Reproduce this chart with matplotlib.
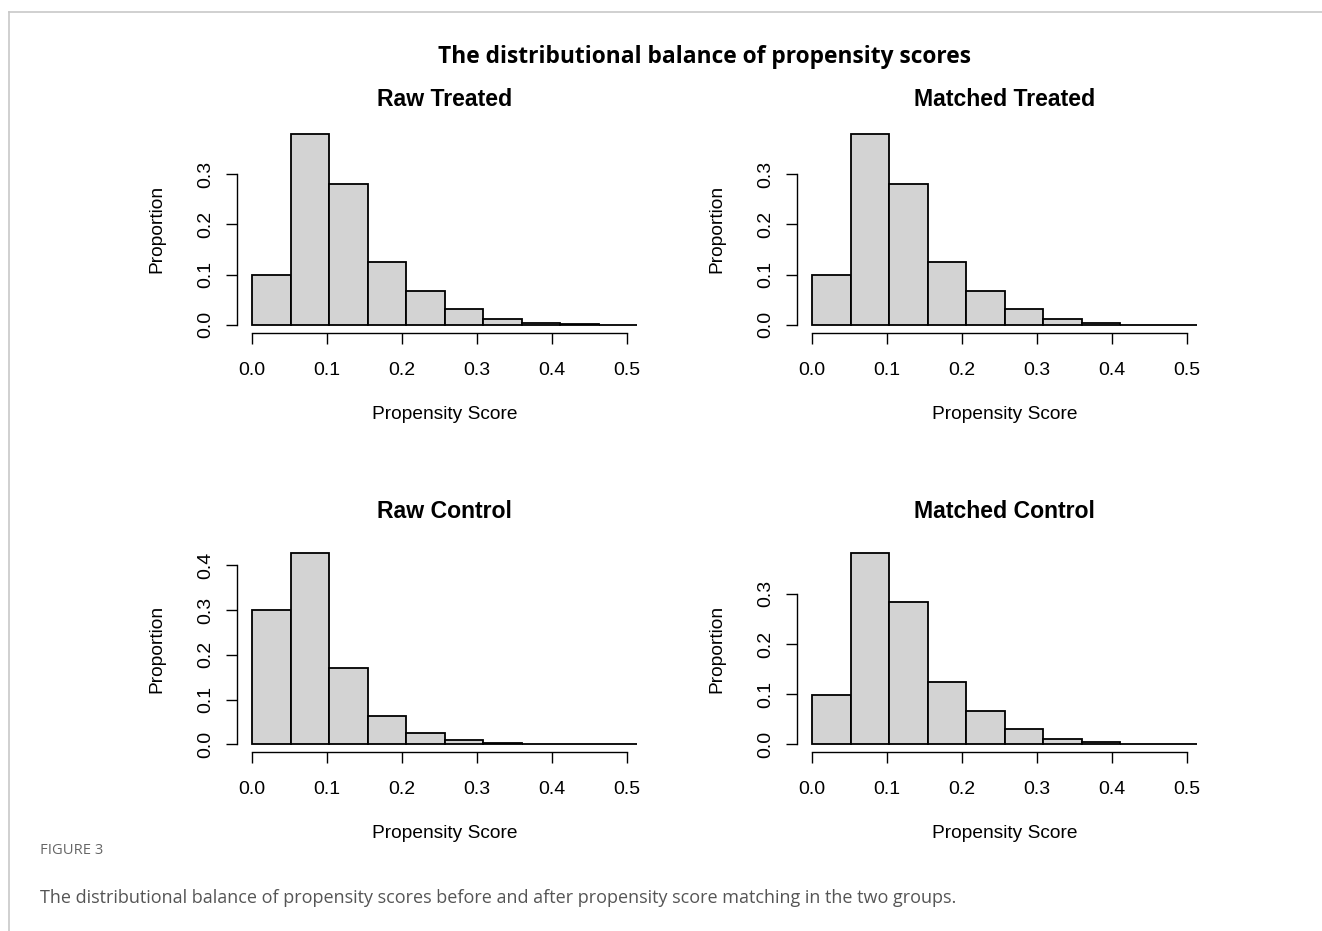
import matplotlib.pyplot as plt
import numpy as np

# bin edges of the propensity score histograms (10 equal bins)
edges = np.linspace(0.0, 0.514, 11)

raw_treated = [0.099, 0.381, 0.281, 0.125, 0.068, 0.031, 0.011, 0.004, 0.0015, 0.0]
matched_treated = [0.099, 0.381, 0.281, 0.125, 0.068, 0.031, 0.011, 0.004, 0.0, 0.0]
raw_control = [0.300, 0.427, 0.171, 0.063, 0.025, 0.0097, 0.003, 0.0015, 0.001, 0.0005]
matched_control = [0.098, 0.381, 0.283, 0.125, 0.067, 0.031, 0.011, 0.004, 0.0, 0.0]

panels = [
    ("Raw Treated", raw_treated, [0.0, 0.1, 0.2, 0.3]),
    ("Matched Treated", matched_treated, [0.0, 0.1, 0.2, 0.3]),
    ("Raw Control", raw_control, [0.0, 0.1, 0.2, 0.3, 0.4]),
    ("Matched Control", matched_control, [0.0, 0.1, 0.2, 0.3]),
]
xticks = [0.0, 0.1, 0.2, 0.3, 0.4, 0.5]

W, H = 1322, 931
plt.rcParams['font.family'] = ['Liberation Sans', 'DejaVu Sans']
fig = plt.figure(figsize=(W / 100, H / 100), dpi=100)


def fx(x):
    return x / W


def fy(y):
    return 1 - y / H


# light frame of the figure page
fig.add_artist(plt.Line2D([fx(9), 1], [fy(11.5), fy(11.5)], color='#c8c8c8', lw=1.2))
fig.add_artist(plt.Line2D([fx(9), fx(9)], [fy(11.5), 0], color='#c8c8c8', lw=1.2))

fig.text(fx(705), fy(57), "The distributional balance of propensity scores",
         family='Open Sans', weight='bold', fontsize=16.4, ha='center', va='center')

rows_top = [126.0, 545.5]
ax_h = 206.5
left0 = 236.9
ax_w = 415.5
title_y = [100, 511]

for i, (name, heights, yticks) in enumerate(panels):
    col, row = i % 2, i // 2
    left = left0 + 560 * col
    top = rows_top[row]
    ax = fig.add_axes([fx(left), fy(top + ax_h), ax_w / W, ax_h / H])
    ax.bar(edges[:-1], heights, width=np.diff(edges), align='edge',
           color='#d3d3d3', edgecolor='black', linewidth=1.3)
    rng = edges[-1] - edges[0]
    ymax = max(heights)
    ax.set_xlim(edges[0] - 0.04 * rng, edges[-1] + 0.04 * rng)
    ax.set_ylim(-0.04 * ymax, 1.04 * ymax)
    for s in ['top', 'right']:
        ax.spines[s].set_visible(False)
    ax.spines['left'].set_bounds(yticks[0], yticks[-1])
    ax.spines['bottom'].set_bounds(xticks[0], xticks[-1])
    for s in ['left', 'bottom']:
        ax.spines[s].set_linewidth(1.0)
    ax.set_xticks(xticks)
    ax.set_xticklabels([f"{t:.1f}" for t in xticks])
    ax.set_yticks(yticks)
    ax.set_yticklabels([f"{t:.1f}" for t in yticks], rotation=90, va='center')
    ax.tick_params(axis='both', length=8, width=1.0, labelsize=14)
    ax.tick_params(axis='x', pad=13)
    ax.tick_params(axis='y', pad=8)

    cx = left + ax_w / 2
    fig.text(fx(cx), fy(title_y[row]), name, weight='bold', fontsize=16.6,
             ha='center', va='center')
    ax.set_xlabel("Propensity Score", fontsize=13.8)
    ax.xaxis.set_label_coords(0.5, -82 / ax_h)
    ax.xaxis.label.set_va('center')
    ax.set_ylabel("Proportion", fontsize=13.8)
    ax.yaxis.set_label_coords((157 - 236.9) / ax_w, 0.5)
    ax.yaxis.label.set_va('center')

fig.text(fx(40), fy(851), "FIGURE 3", family='Open Sans', fontsize=10.6,
         color='#666666', ha='left', va='center')
fig.text(fx(40), fy(898),
         "The distributional balance of propensity scores before and after "
         "propensity score matching in the two groups.",
         family='Open Sans', fontsize=13.0, color='#555555', ha='left', va='center')

fig.savefig("out.png", dpi=100)
